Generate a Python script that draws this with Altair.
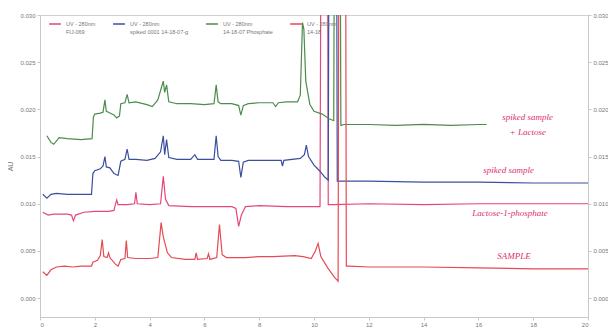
import altair as alt
import pandas as pd

# ---- data -----------------------------------------------------------------
series_names = [
    "UV - 280nm|FIJ-069",
    "UV - 280nm|spiked 0001 14-18-07-g",
    "UV - 280nm|14-18-07 Phosphate",
    "UV - 280nm|14-18",
]
series_colors = ["#e4487a", "#3a4f9e", "#4c8c4c", "#e64a55"]

# Lactose-1-phosphate (pink)
pink_t = [0.1, 0.3, 0.5, 1.0, 1.15, 1.22, 1.3, 1.6, 2.0, 2.5, 2.7, 2.75, 2.8, 2.85, 3.2, 3.45, 3.5, 3.55,
          4.0, 4.4, 4.5, 4.58, 4.7, 5.5, 6.0, 6.5, 7.0, 7.15, 7.25, 7.35, 7.5, 8.0, 9.0, 10.0, 10.22,
          10.26, 10.49, 10.52, 10.7, 12.0, 14.0, 16.0, 18.0, 20.0]
pink_v = [0.0091, 0.0088, 0.0089, 0.0089, 0.0088, 0.0082, 0.0088, 0.0091, 0.0092, 0.0092, 0.0093, 0.0099,
          0.0104, 0.0099, 0.0099, 0.0100, 0.0112, 0.0100, 0.0099, 0.0100, 0.0129, 0.0105, 0.0098, 0.0097,
          0.0097, 0.0097, 0.0097, 0.0095, 0.0076, 0.0088, 0.0097, 0.0098, 0.0097, 0.0097, 0.0097,
          0.0450, 0.0450, 0.0099, 0.0099, 0.0100, 0.0099, 0.0100, 0.0100, 0.0100]

# spiked sample (blue)
blue_t = [0.1, 0.25, 0.4, 0.6, 1.0, 1.5, 1.88, 1.93, 2.0, 2.2, 2.3, 2.37, 2.42, 2.55, 2.7, 2.85, 2.95, 3.1,
          3.18, 3.25, 3.5, 3.9, 4.2, 4.4, 4.5, 4.55, 4.62, 4.7, 5.0, 5.5, 5.65, 5.75, 6.35, 6.43, 6.5,
          6.6, 7.0, 7.25, 7.33, 7.42, 7.6, 8.0, 8.8, 8.85, 8.9, 9.5, 9.65, 9.72, 9.8, 10.0, 10.2, 10.4,
          10.52, 10.55, 10.82, 10.85, 11.0, 12.0, 14.0, 16.0, 18.0, 20.0]
blue_v = [0.0110, 0.0106, 0.0110, 0.0111, 0.0110, 0.0110, 0.0110, 0.0132, 0.0135, 0.0137, 0.0140, 0.0150,
          0.0139, 0.0138, 0.0132, 0.0130, 0.0145, 0.0147, 0.0158, 0.0147, 0.0147, 0.0146, 0.0148, 0.0155,
          0.0172, 0.0152, 0.0168, 0.0149, 0.0147, 0.0147, 0.0152, 0.0147, 0.0147, 0.0172, 0.0150, 0.0146,
          0.0146, 0.0145, 0.0128, 0.0144, 0.0146, 0.0146, 0.0146, 0.0140, 0.0146, 0.0148, 0.0152, 0.0162,
          0.0150, 0.0141, 0.0135, 0.0128, 0.0125, 0.0450, 0.0450, 0.0124, 0.0124, 0.0124, 0.0123,
          0.0123, 0.0122, 0.0122]

# spiked sample + lactose (green)
green_t = [0.25, 0.4, 0.5, 0.7, 1.0, 1.5, 1.9, 1.95, 2.0, 2.2, 2.3, 2.37, 2.42, 2.5, 2.7, 2.8, 2.9, 2.95,
           3.1, 3.18, 3.25, 3.5, 3.9, 4.1, 4.3, 4.45, 4.5, 4.55, 4.62, 4.7, 5.0, 5.5, 6.0, 6.35, 6.43, 6.5,
           6.6, 7.0, 7.25, 7.33, 7.42, 7.6, 8.0, 8.5, 8.6, 8.7, 9.0, 9.4, 9.5, 9.58, 9.63, 9.7, 9.85,
           10.0, 10.3, 10.55, 10.72, 10.75, 10.95, 10.98, 11.1, 12.0, 13.0, 14.0, 15.0, 16.0, 16.3]
green_v = [0.0172, 0.0165, 0.0163, 0.0170, 0.0169, 0.0168, 0.0169, 0.0192, 0.0195, 0.0196, 0.0197, 0.0210,
           0.0198, 0.0197, 0.0194, 0.0191, 0.0193, 0.0206, 0.0207, 0.0216, 0.0207, 0.0208, 0.0205, 0.0203,
           0.0210, 0.0225, 0.0230, 0.0218, 0.0226, 0.0208, 0.0206, 0.0206, 0.0205, 0.0206, 0.0226, 0.0208,
           0.0206, 0.0206, 0.0204, 0.0194, 0.0204, 0.0206, 0.0207, 0.0207, 0.0203, 0.0207, 0.0208, 0.0208,
           0.0215, 0.0292, 0.0285, 0.0230, 0.0205, 0.0198, 0.0195, 0.0190, 0.0188, 0.0450, 0.0450,
           0.0183, 0.0184, 0.0184, 0.0183, 0.0184, 0.0183, 0.0184, 0.0184]

# SAMPLE (red)
red_t = [0.1, 0.25, 0.4, 0.6, 0.9, 1.2, 1.5, 1.88, 1.93, 2.1, 2.2, 2.27, 2.33, 2.45, 2.5, 2.55, 2.75, 2.85,
         2.95, 3.1, 3.15, 3.2, 3.5, 4.0, 4.3, 4.42, 4.5, 4.65, 4.8, 5.3, 5.65, 5.7, 5.75, 6.1, 6.15, 6.2,
         6.45, 6.55, 6.65, 6.8, 7.5, 8.0, 8.5, 9.3, 9.6, 9.9, 10.05, 10.15, 10.25, 10.5, 10.75, 10.88,
         10.91, 11.15, 11.18, 11.3, 12.0, 14.0, 16.0, 18.0, 20.0]
red_v = [0.0028, 0.0024, 0.0030, 0.0033, 0.0034, 0.0033, 0.0034, 0.0034, 0.0038, 0.0040, 0.0045, 0.0062,
         0.0044, 0.0043, 0.0048, 0.0043, 0.0036, 0.0034, 0.0041, 0.0042, 0.0061, 0.0043, 0.0042, 0.0042,
         0.0043, 0.0080, 0.0065, 0.0048, 0.0043, 0.0041, 0.0041, 0.0048, 0.0041, 0.0042, 0.0047, 0.0041,
         0.0043, 0.0078, 0.0046, 0.0043, 0.0043, 0.0044, 0.0044, 0.0045, 0.0044, 0.0042, 0.0050, 0.0058,
         0.0044, 0.0032, 0.0022, 0.0018, 0.0450, 0.0450, 0.0034, 0.0034, 0.0033, 0.0033, 0.0032,
         0.0031, 0.0031]

x_ticks = [0, 2, 4, 6, 8, 10, 12, 14, 16, 18, 20]
y_ticks = [0.000, 0.005, 0.010, 0.015, 0.020, 0.025, 0.030]

notes_text = ["spiked sample", "+ Lactose", "spiked sample", "Lactose-1-phosphate", "SAMPLE"]
notes_t = [17.8, 17.8, 17.1, 17.15, 17.3]
notes_v = [0.0192, 0.0176, 0.0136, 0.0090, 0.0045]

# ---- build table ----------------------------------------------------------
rows = []
for name, ts, vs in [(series_names[0], pink_t, pink_v), (series_names[1], blue_t, blue_v),
                     (series_names[2], green_t, green_v), (series_names[3], red_t, red_v)]:
    for i, (t, v) in enumerate(zip(ts, vs)):
        rows.append({"series": name, "t": t, "v": v, "order": i})
df = pd.DataFrame(rows)
notes = pd.DataFrame({"text": notes_text, "t": notes_t, "v": notes_v})

xscale = alt.Scale(domain=[0, 20], nice=False, zero=False)
yscale = alt.Scale(domain=[-0.002, 0.030], nice=False, zero=False)

axis_common = dict(labelFontSize=6, labelColor="#777777", domainColor="#c8c8c8", tickColor="#c8c8c8",
                   tickSize=3, grid=False, labelFont="Liberation Sans")
x_axis = alt.Axis(values=x_ticks, format="d", title=None, labelPadding=1, **axis_common)

lines = alt.Chart(df).mark_line(clip=True, strokeWidth=1.2).encode(
    x=alt.X("t:Q", scale=xscale, axis=x_axis),
    y=alt.Y("v:Q", scale=yscale, axis=alt.Axis(values=y_ticks, format=".3f", title="AU", titleFontSize=7,
                                                titleColor="#777777", titleFontWeight="normal",
                                                titlePadding=6, **axis_common)),
    color=alt.Color("series:N", scale=alt.Scale(domain=series_names, range=series_colors),
                    sort=series_names,
                    legend=alt.Legend(title=None, orient="none", legendX=8, legendY=2, direction="horizontal",
                                      symbolType="stroke", symbolSize=140, symbolStrokeWidth=1.5,
                                      labelFontSize=5.5, labelColor="#777777", labelFont="Liberation Sans",
                                      labelExpr="split(datum.label, '|')", columnPadding=14,
                                      labelLimit=200)),
    order="order:Q",
)

right_axis = alt.Chart(df).mark_point(opacity=0).encode(
    x=alt.X("t:Q", scale=xscale, axis=x_axis),
    y=alt.Y("v:Q", scale=yscale, axis=alt.Axis(orient="right", values=y_ticks, format=".3f", title=None,
                                                labelPadding=2, **axis_common)),
)

texts = alt.Chart(notes).mark_text(font="Liberation Serif", fontStyle="italic", fontSize=9,
                                   color="#e0306a", align="center").encode(
    x=alt.X("t:Q", scale=xscale, axis=x_axis),
    y=alt.Y("v:Q", scale=yscale, axis=None),
    text="text:N",
)

chart = alt.layer(lines, right_axis, texts).resolve_axis(y="independent").properties(
    width=548, height=302,
    autosize=alt.AutoSizeParams(type="none"),
    padding={"left": 32, "top": 7, "right": 20, "bottom": 12},
).configure_view(stroke="#d0d0d0", strokeWidth=1)

chart.save("out.html", embed_options={"renderer": "svg", "actions": False})
